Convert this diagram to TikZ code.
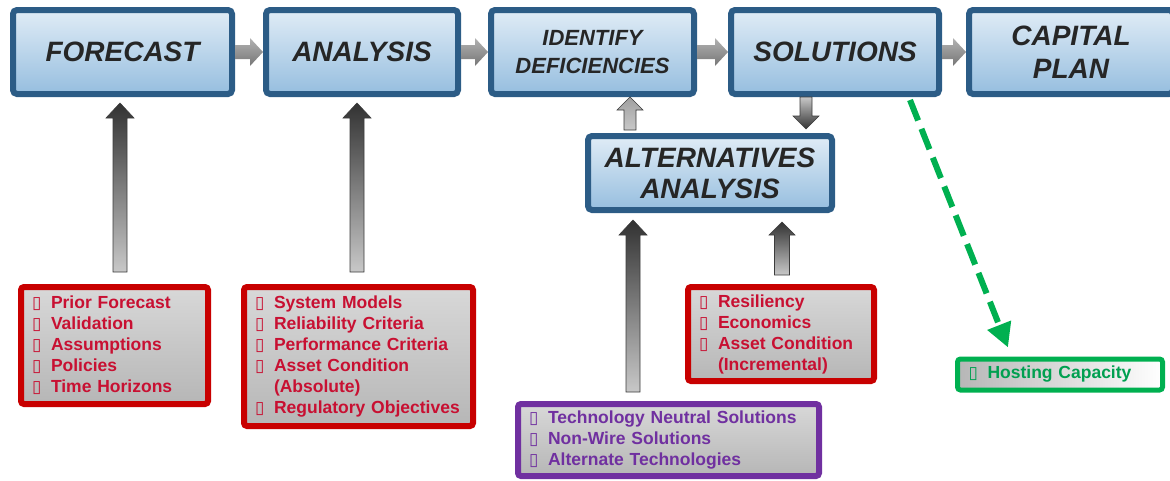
\documentclass[tikz,border=0pt]{standalone}
\usepackage{fontspec}
\setmainfont{Liberation Sans}
\newfontfamily\dvs{DejaVu Sans}
\usetikzlibrary{arrows.meta,calc,shadows}
\definecolor{bxborder}{RGB}{44,92,134}
\definecolor{bxtop}{RGB}{224,236,246}
\definecolor{bxbot}{RGB}{150,190,223}
\definecolor{hdtext}{RGB}{38,38,38}
\definecolor{redb}{RGB}{200,0,0}
\definecolor{redt}{RGB}{200,16,50}
\definecolor{purb}{RGB}{112,48,160}
\definecolor{purt}{RGB}{112,48,160}
\definecolor{grnb}{RGB}{0,176,80}
\definecolor{grnt}{RGB}{0,160,80}
\definecolor{lsttop}{RGB}{216,216,216}
\definecolor{lstbot}{RGB}{182,182,182}
\definecolor{arrdark}{RGB}{50,50,50}
\definecolor{arrlight}{RGB}{200,200,200}
\definecolor{arrline}{RGB}{60,60,60}
\definecolor{harrtop}{RGB}{178,178,178}
\definecolor{harrbot}{RGB}{118,118,118}
\newcommand\bu{\makebox[19pt][l]{{\dvs\fontsize{17pt}{17pt}\selectfont\symbol{"25AF}}}}
\newcommand\ind{\hspace*{19pt}}
% vertical block arrow: [style]{start}{tip}{shaft half}{head half}{head length}
\newcommand\varrow[6][]{%
  \shadedraw[#1] let \p1=(#2), \p2=(#3), \n1={sign(\y2-\y1)} in
  (\x1-#4,\y1) -- (\x1-#4,\y2-\n1*#6) -- (\x1-#5,\y2-\n1*#6) -- (\x1,\y2)
  -- (\x1+#5,\y2-\n1*#6) -- (\x1+#4,\y2-\n1*#6) -- (\x1+#4,\y1) -- cycle;}
% horizontal block arrow
\newcommand\harrow[6][]{%
  \shade[#1] let \p1=(#2), \p2=(#3), \n1={sign(\x2-\x1)} in
  (\x1,\y1-#4) -- (\x2-\n1*#6,\y1-#4) -- (\x2-\n1*#6,\y1-#5) -- (\x2,\y1)
  -- (\x2-\n1*#6,\y1+#5) -- (\x2-\n1*#6,\y1+#4) -- (\x1,\y1+#4) -- cycle;}
\tikzset{
  topbox/.style={draw=bxborder, line width=6pt, rounded corners=4pt,
    top color=bxtop, bottom color=bxbot, minimum height=84pt,
    inner sep=0pt, outer sep=0pt, align=center, text=hdtext,
    font=\fontsize{28pt}{33pt}\selectfont\bfseries\itshape,
    drop shadow={opacity=0.3, shadow xshift=2pt, shadow yshift=-2pt}},
  listbox/.style={line width=6pt, rounded corners=3pt,
    top color=lsttop, bottom color=lstbot, inner xsep=11pt, inner ysep=0pt,
    outer sep=0pt, align=left,
    font=\fontsize{17.5pt}{21pt}\selectfont\bfseries,
    drop shadow={opacity=0.2, shadow xshift=1.5pt, shadow yshift=-1.5pt}},
  harr/.style={top color=harrtop, bottom color=harrbot},
  uparr/.style={top color=arrdark, bottom color=arrlight, draw=arrline, line width=0.6pt},
  downarr/.style={top color=arrlight, bottom color=arrdark, draw=arrline, line width=0.6pt},
  greenarr/.style={draw=grnb, line width=6pt, dash pattern=on 22pt off 9pt,
    -{Triangle[width=24pt,length=24pt]}}
}
\begin{document}
\begin{tikzpicture}[x=1pt,y=-1pt]
\useasboundingbox (0,0) rectangle (1170,480);
% top row
\node[topbox, minimum width=219pt] (forecast) at (122.5,52) {FORECAST};
\node[topbox, minimum width=192pt] (analysis) at (362,52) {ANALYSIS};
\node[topbox, minimum width=203pt, font=\fontsize{22pt}{28pt}\selectfont\bfseries\itshape] (identify) at (592.5,52) {IDENTIFY\\DEFICIENCIES};
\node[topbox, minimum width=208pt] (solutions) at (835,52) {SOLUTIONS};
\node[topbox, minimum width=204pt] (capital) at (1071,52) {CAPITAL\\PLAN};
\node[topbox, minimum width=244pt, minimum height=74pt, font=\fontsize{28pt}{31pt}\selectfont\bfseries\itshape] (alt) at (710,173) {ALTERNATIVES\\ANALYSIS};
% list boxes
\node[listbox, draw=redb, text=redt, text width=165pt, minimum height=117pt] (fcin) at (114.5,345.5)
  {\bu Prior Forecast\\\bu Validation\\\bu Assumptions\\\bu Policies\\\bu Time Horizons};
\node[listbox, draw=redb, text=redt, text width=207pt, minimum height=139pt] (anin) at (358.5,356.5)
  {\bu System Models\\\bu Reliability Criteria\\\bu Performance Criteria\\\bu Asset Condition\\\ind(Absolute)\\\bu Regulatory Objectives};
\node[listbox, draw=redb, text=redt, text width=164pt, minimum height=94pt] (altin) at (781,334)
  {\bu Resiliency\\\bu Economics\\\bu Asset Condition\\\ind(Incremental)};
\node[listbox, draw=purb, text=purt, text width=279pt, minimum height=72pt] (tech) at (668.5,440)
  {\bu Technology Neutral Solutions\\\bu Non-Wire Solutions\\\bu Alternate Technologies};
\node[listbox, draw=grnb, text=grnt, line width=5pt, text width=183pt, minimum height=31pt,
  top color=lsttop, bottom color=lsttop, left color=lstbot, right color=white] (hosting) at (1060,374.5)
  {\bu Hosting Capacity};
% horizontal arrows
\harrow[harr]{[xshift=3pt]forecast.east}{[xshift=-3pt]analysis.west}{7pt}{14pt}{13pt}
\harrow[harr]{[xshift=3pt]analysis.east}{[xshift=-3pt]identify.west}{7pt}{14pt}{13pt}
\harrow[harr]{[xshift=3pt]identify.east}{[xshift=-3pt]solutions.west}{7pt}{14pt}{13pt}
\harrow[harr]{[xshift=3pt]solutions.east}{[xshift=-3pt]capital.west}{7pt}{14pt}{13pt}
% vertical arrows
\varrow[uparr]{[xshift=5.5pt,yshift=15pt]fcin.north}{[yshift=-9pt]forecast.south}{7pt}{14pt}{15pt}
\varrow[uparr]{[xshift=-1.5pt,yshift=15pt]anin.north}{[yshift=-9pt]analysis.south}{7pt}{14pt}{15pt}
\varrow[uparr, top color=gray!75]{[xshift=-80pt,yshift=6pt]alt.north}{[yshift=-3pt]identify.south}{6pt}{13pt}{13pt}
\varrow[downarr]{[xshift=-29pt,yshift=-3pt]solutions.south}{[yshift=7pt]alt.north}{6pt}{13pt}{13pt}
\varrow[uparr]{[xshift=-35.5pt,yshift=12pt]tech.north}{[yshift=-10pt]alt.south}{7pt}{14pt}{15pt}
\varrow[uparr]{[xshift=1pt,yshift=12pt]altin.north}{[yshift=-12pt]alt.south}{7.5pt}{13pt}{13pt}
% green dashed arrow
\coordinate (g1) at ([xshift=75pt,yshift=-6pt]solutions.south);
\draw[greenarr] (g1) -- ([xshift=-52pt,yshift=11.5pt]hosting.north);
\end{tikzpicture}
\end{document}
